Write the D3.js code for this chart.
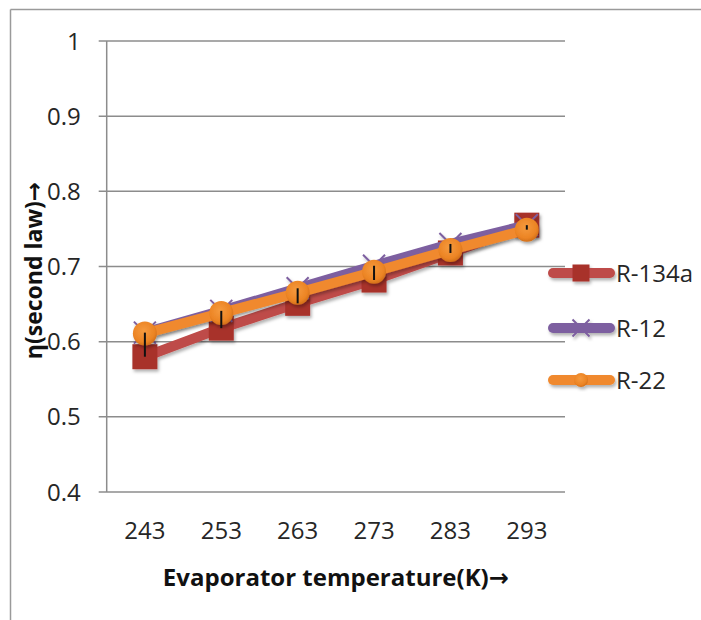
<!DOCTYPE html>
<html>
<head>
<meta charset="UTF-8">
<title>Second law efficiency vs evaporator temperature</title>
<style>
    body { margin: 0; background: white; font-family: "Open Sans", sans-serif; }
    svg { display: block; }
    .grid line { stroke: #8c8c8c; stroke-width: 1.5px; }
    .tick-label { font-size: 24px; fill: #262626; }
    .axis-title { font-weight: bold; fill: #111; }
    .arrow { font-family: "DejaVu Sans", sans-serif; }
</style>
</head>
<body>
<script src="https://d3js.org/d3.v7.min.js"></script>
<script>
    var temps = ["243", "253", "263", "273", "283", "293"];
    var r134a = [0.580, 0.618, 0.651, 0.682, 0.718, 0.755];
    var r12 = [0.612, 0.641, 0.671, 0.701, 0.730, 0.755];
    var r22 = [0.611, 0.638, 0.665, 0.693, 0.722, 0.749];
    var yTicks = [0.4, 0.5, 0.6, 0.7, 0.8, 0.9, 1];

    var series = [
        {name: "R-134a", values: r134a, color: "#be4b48", dark: "#a8302c", marker: "square"},
        {name: "R-12", values: r12, color: "#7d5fa0", dark: "#7d5fa0", marker: "cross"},
        {name: "R-22", values: r22, color: "#f0892e", dark: "#e07a1c", marker: "circle"}
    ];

    var width = 701, height = 620;
    var plotLeft = 106.7, plotRight = 565, plotTop = 41, plotBottom = 492;

    var svg = d3.select("body").append("svg")
        .attr("width", width)
        .attr("height", height);

    var defs = svg.append("defs");
    var shadow = defs.append("filter").attr("id", "shadow")
        .attr("x", "-30%").attr("y", "-30%").attr("width", "160%").attr("height", "160%");
    shadow.append("feDropShadow")
        .attr("dx", 1.5).attr("dy", 2.5).attr("stdDeviation", 1.8)
        .attr("flood-color", "#000").attr("flood-opacity", 0.3);

    var grad = defs.append("radialGradient").attr("id", "orangeBall")
        .attr("cx", "45%").attr("cy", "40%").attr("r", "60%");
    grad.append("stop").attr("offset", "0%").attr("stop-color", "#f59a3e");
    grad.append("stop").attr("offset", "75%").attr("stop-color", "#ec8424");
    grad.append("stop").attr("offset", "100%").attr("stop-color", "#d2701a");

    // outer frame (only left and top edges show)
    svg.append("line").attr("x1", 10.5).attr("x2", 10.5).attr("y1", 9.5).attr("y2", height)
        .attr("stroke", "#9a9a9a").attr("stroke-width", 1.5);
    svg.append("line").attr("x1", 10.5).attr("x2", width).attr("y1", 9.5).attr("y2", 9.5)
        .attr("stroke", "#9a9a9a").attr("stroke-width", 1.5);

    var x = d3.scaleBand().domain(temps).range([plotLeft, plotRight]);
    var y = d3.scaleLinear().domain([0.4, 1]).range([plotBottom, plotTop]);
    var cx = function(d, i) { return x(temps[i]) + x.bandwidth() / 2; };

    // gridlines, with short ticks at the left
    svg.append("g").attr("class", "grid")
        .selectAll("line").data(yTicks).enter().append("line")
        .attr("x1", plotLeft - 8).attr("x2", plotRight)
        .attr("y1", function(d) { return y(d); })
        .attr("y2", function(d) { return y(d); });

    svg.append("line")
        .attr("x1", plotLeft).attr("x2", plotLeft).attr("y1", plotTop).attr("y2", plotBottom)
        .attr("stroke", "#8c8c8c").attr("stroke-width", 1.5);

    svg.append("g").selectAll("text").data(yTicks).enter().append("text")
        .attr("class", "tick-label")
        .attr("x", plotLeft - 26)
        .attr("y", function(d) { return y(d); })
        .attr("dy", "0.36em")
        .attr("text-anchor", "end")
        .text(function(d) { return d3.format("")(d); });

    svg.append("g").selectAll("text").data(temps).enter().append("text")
        .attr("class", "tick-label")
        .attr("x", function(d) { return x(d) + x.bandwidth() / 2; })
        .attr("y", 530)
        .attr("dy", "0.36em")
        .attr("text-anchor", "middle")
        .text(function(d) { return d; });

    var xTitle = svg.append("text").attr("class", "axis-title")
        .attr("x", (plotLeft + plotRight) / 2).attr("y", 577).attr("dy", "0.36em")
        .attr("text-anchor", "middle").style("font-size", "24px");
    xTitle.append("tspan").text("Evaporator temperature(K)");
    xTitle.append("tspan").attr("class", "arrow").text("\u2192");

    var yTitle = svg.append("text").attr("class", "axis-title")
        .attr("transform", "translate(34," + ((plotTop + plotBottom) / 2 + 4) + ") rotate(-90)")
        .attr("dy", "0.36em")
        .attr("text-anchor", "middle").style("font-size", "23px");
    yTitle.append("tspan").text("\u03b7(second law)");
    yTitle.append("tspan").attr("class", "arrow").text("\u2192");

    var line = d3.line()
        .x(cx)
        .y(function(d) { return y(d); });

    function drawMarker(g, s, px, py, size) {
        if (s.marker === "square") {
            g.append("rect")
                .attr("x", px - size / 2).attr("y", py - size / 2)
                .attr("width", size).attr("height", size)
                .attr("fill", s.dark);
        } else if (s.marker === "cross") {
            var h = size / 2;
            g.append("path")
                .attr("d", "M" + (px - h) + "," + (py - h) + "L" + (px + h) + "," + (py + h) +
                    "M" + (px + h) + "," + (py - h) + "L" + (px - h) + "," + (py + h))
                .attr("stroke", s.color).attr("stroke-width", 2).attr("fill", "none");
        } else {
            g.append("circle")
                .attr("cx", px).attr("cy", py).attr("r", size / 2)
                .attr("fill", "url(#orangeBall)");
        }
    }

    var plot = svg.append("g");
    var markerSize = {square: 25, cross: 22, circle: 24};

    series.forEach(function(s) {
        var g = plot.append("g").attr("filter", "url(#shadow)");
        g.append("path")
            .datum(s.values)
            .attr("d", line)
            .attr("fill", "none")
            .attr("stroke", s.color)
            .attr("stroke-width", 10)
            .attr("stroke-linejoin", "round")
            .attr("stroke-linecap", "round");
        s.values.forEach(function(v, i) {
            drawMarker(g, s, cx(v, i), y(v), markerSize[s.marker]);
        });
    });

    // high-low lines across the three series
    plot.append("g").selectAll("line").data(temps).enter().append("line")
        .attr("x1", function(d, i) { return cx(d, i); })
        .attr("x2", function(d, i) { return cx(d, i); })
        .attr("y1", function(d, i) { return y(d3.max(series, function(s) { return s.values[i]; })); })
        .attr("y2", function(d, i) { return y(d3.min(series, function(s) { return s.values[i]; })); })
        .attr("stroke", "#111").attr("stroke-width", 2);

    // legend
    var legend = svg.append("g");
    var legendY = [273, 328, 380];
    series.forEach(function(s, i) {
        var g = legend.append("g").attr("filter", "url(#shadow)");
        g.append("line")
            .attr("x1", 553).attr("x2", 610)
            .attr("y1", legendY[i]).attr("y2", legendY[i])
            .attr("stroke", s.color).attr("stroke-width", 10)
            .attr("stroke-linecap", "round");
        var sz = s.marker === "circle" ? 14 : 17;
        drawMarker(g, s, 581, legendY[i], sz);
        legend.append("text")
            .attr("class", "tick-label")
            .attr("x", 616).attr("y", legendY[i]).attr("dy", "0.36em")
            .text(s.name);
    });
</script>
</body>
</html>
